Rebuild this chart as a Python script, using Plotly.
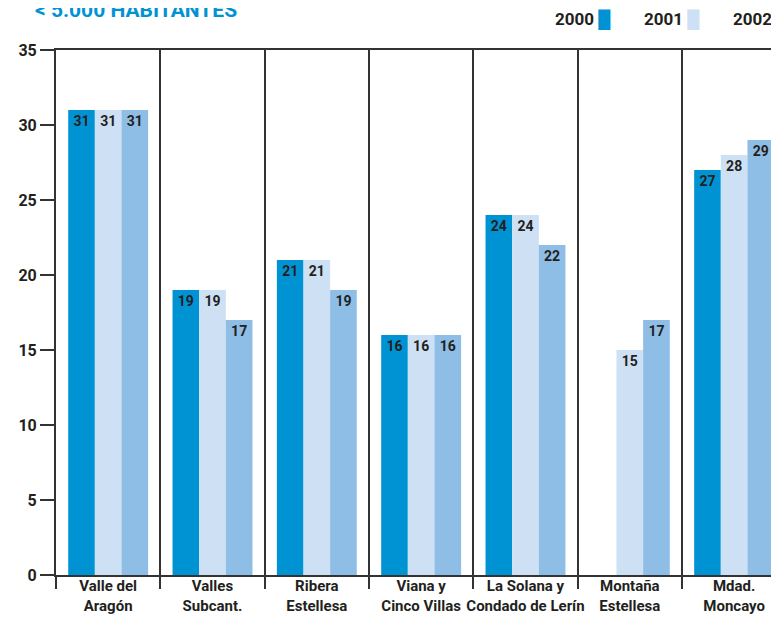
import plotly.graph_objects as go

# Datos del gráfico
REGIONS = [
    "Valle del<br>Aragón",
    "Valles<br>Subcant.",
    "Ribera<br>Estellesa",
    "Viana y<br>Cinco Villas",
    "La Solana y<br>Condado de Lerín",
    "Montaña<br>Estellesa",
    "Mdad.<br>Moncayo",
]
YEARS = ["2000", "2001", "2002"]
VALUES_2000 = [31, 19, 21, 16, 24, None, 27]
VALUES_2001 = [31, 19, 21, 16, 24, 15, 28]
VALUES_2002 = [31, 17, 19, 16, 22, 17, 29]
Y_TICKS = [0, 5, 10, 15, 20, 25, 30, 35]

COLORS = {"2000": "#0093D4", "2001": "#CDE0F4", "2002": "#8EBDE6"}
FONT = "Roboto, Liberation Sans Narrow, sans-serif"
INK = "#231F20"
LINE = "#333333"

fig = go.Figure()

for year, vals in zip(YEARS, [VALUES_2000, VALUES_2001, VALUES_2002]):
    fig.add_trace(go.Bar(
        x=REGIONS,
        y=vals,
        name=year,
        marker=dict(color=COLORS[year], line=dict(width=0)),
        texttemplate="%{y}",
        textposition="inside",
        insidetextanchor="end",
        textangle=0,
        textfont=dict(family=FONT, size=14, color=INK, weight="bold"),
        showlegend=False,
    ))

# leyenda: texto a la izquierda, muestra de color a la derecha
for i, year in enumerate(YEARS):
    fig.add_annotation(
        xref="paper", yref="paper",
        x=(553 - 56) / 723 + i * 89 / 723, y=1 + 30 / 525,
        xanchor="left", yanchor="middle",
        text=f"<b>{year}</b> <span style='color:{COLORS[year]}'>█</span>",
        showarrow=False,
        font=dict(family=FONT, size=17, color=INK),
    )

# título (recortado en la parte superior)
fig.add_annotation(
    xref="paper", yref="paper",
    x=(33 - 56) / 723, y=1 + 26 / 525,
    xanchor="left", yanchor="bottom",
    text="<b>&lt; 5.000 HABITANTES</b>",
    showarrow=False,
    font=dict(family=FONT, size=21, color="#0093D4"),
)

# la página añade 8 px de margen al cuerpo; se compensa aquí
fig.update_layout(
    width=771,
    height=609,
    margin=dict(l=48, r=0, t=42, b=42, autoexpand=False),
    paper_bgcolor="#FFFFFF",
    plot_bgcolor="#FFFFFF",
    barmode="group",
    bargap=0.234,
    bargroupgap=0,
    font=dict(family=FONT, color=INK),
    xaxis=dict(
        type="category",
        range=[-0.5, 6.43],
        automargin=False,
        tickson="boundaries",
        tickangle=0,
        showgrid=True,
        gridcolor=LINE,
        gridwidth=1.5,
        ticks="outside",
        ticklen=12,
        tickwidth=1.5,
        tickcolor=LINE,
        ticklabelstandoff=-4,
        showline=True,
        mirror=True,
        linecolor=LINE,
        linewidth=2,
        tickfont=dict(family=FONT, size=15, color=INK, weight="bold"),
        zeroline=False,
    ),
    yaxis=dict(
        range=[0, 35],
        automargin=False,
        tickvals=Y_TICKS,
        showgrid=False,
        zeroline=False,
        ticks="outside",
        ticklen=14,
        tickwidth=2,
        tickcolor=LINE,
        showline=True,
        linecolor=LINE,
        linewidth=2,
        tickfont=dict(family=FONT, size=16, color=INK, weight="bold"),
    ),
)

fig.write_html("out.html")
